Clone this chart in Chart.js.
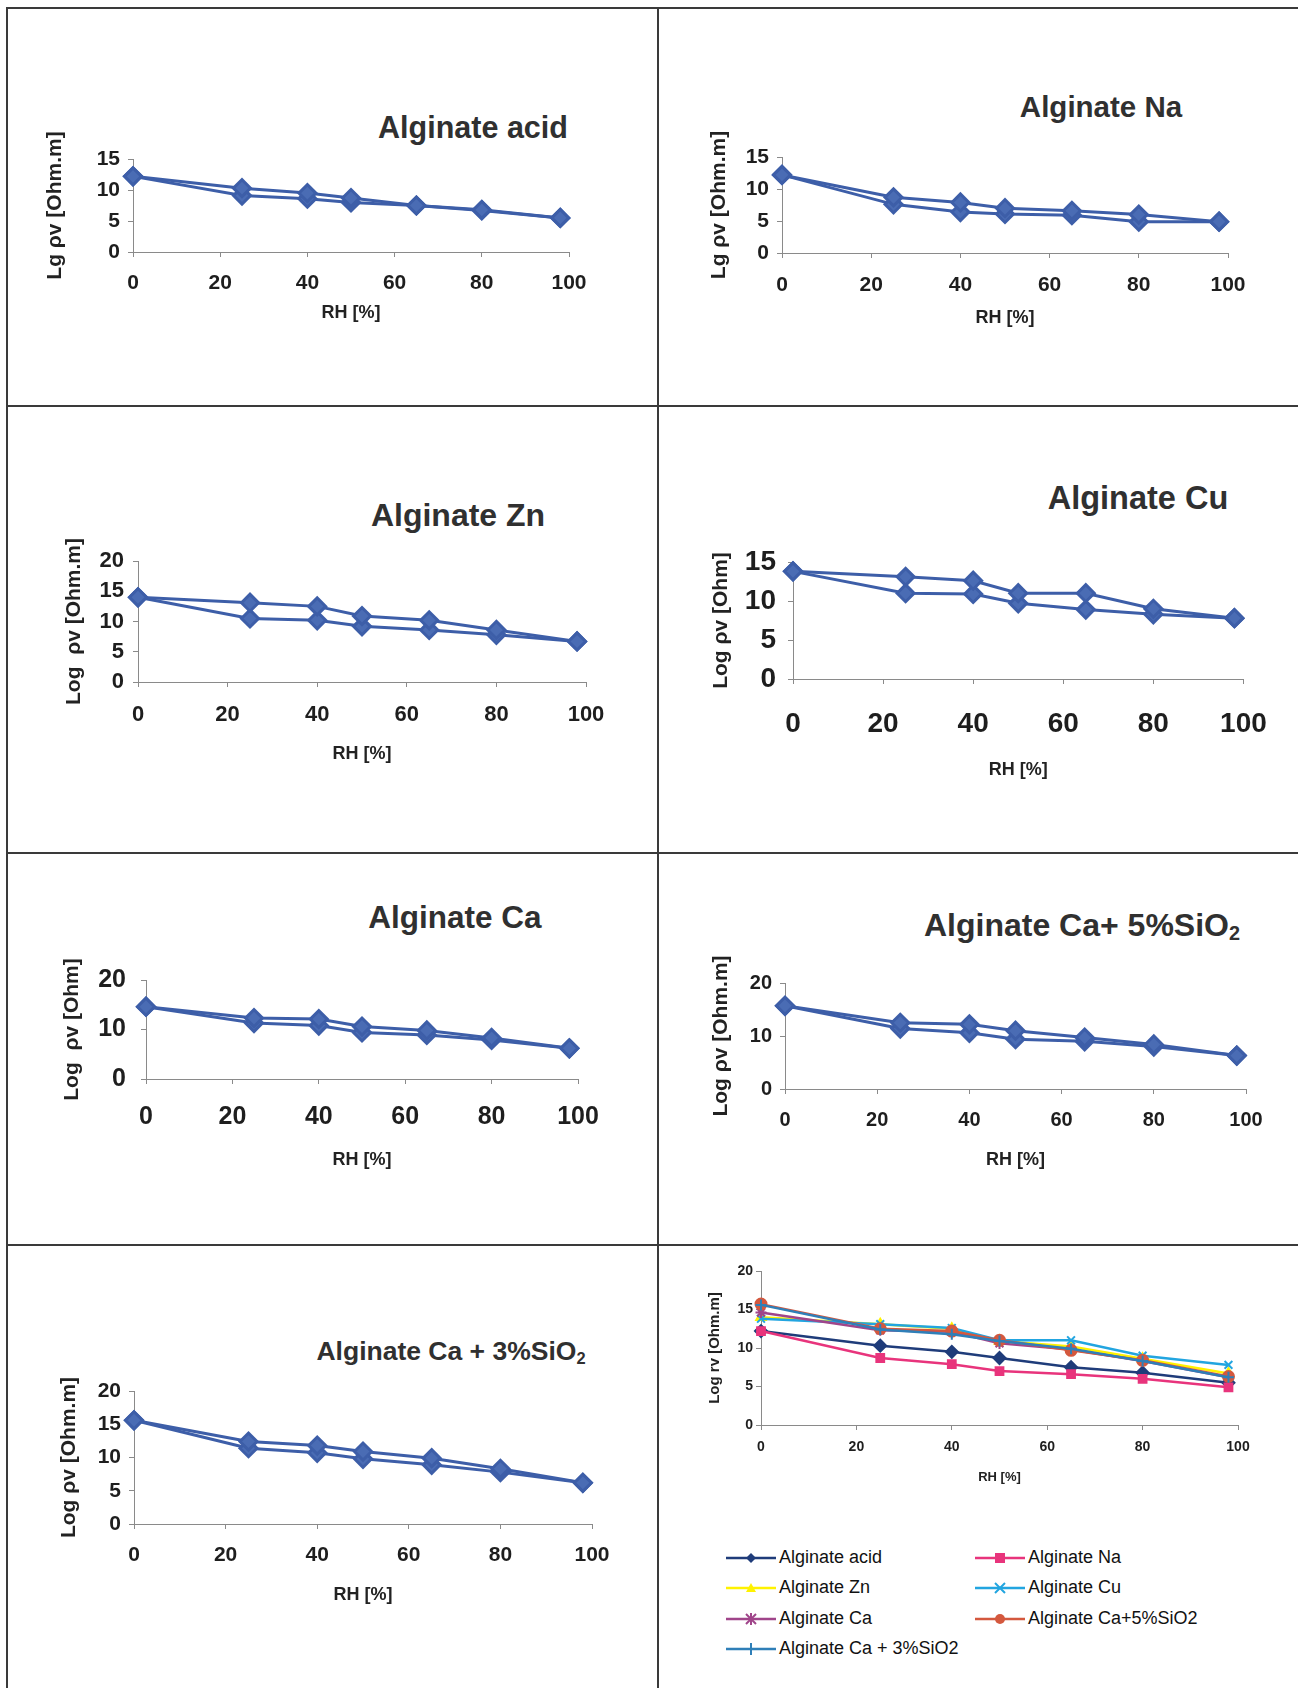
<!DOCTYPE html>
<html lang="en">
<head>
  <meta charset="UTF-8">
  <title>Alginate resistivity vs RH</title>
  <script src="https://cdn.jsdelivr.net/npm/chart.js"></script>
  <style>
    * {
      margin: 0;
      padding: 0;
      box-sizing: border-box;
    }

    body {
      width: 1298px;
      height: 1688px;
      background: #fff;
      position: relative;
      overflow: hidden;
      font-family: Arial, "Liberation Sans", sans-serif;
    }

    /* frame lines of the figure grid */
    .hline, .vline {
      position: absolute;
      background: #3a3a3a;
    }
    .hline { height: 2px; left: 7px; right: 0; }
    .vline { width: 2px; top: 7px; bottom: 0; }

    canvas { position: absolute; }

    .ptitle {
      position: absolute;
      transform: translate(-50%, -50%);
      font-weight: bold;
      color: #303030;
      white-space: nowrap;
    }
    .ptitle sub { font-size: 0.62em; vertical-align: -0.25em; }

    .legend {
      position: absolute;
      font-size: 18px;
      color: #111;
      white-space: nowrap;
    }
    .legend .item {
      position: absolute;
      display: flex;
      align-items: center;
    }
    .legend svg { margin-right: 3px; }
  </style>
</head>
<body>

  <div class="hline" style="top:7px"></div>
  <div class="hline" style="top:405px"></div>
  <div class="hline" style="top:852px"></div>
  <div class="hline" style="top:1244px"></div>
  <div class="vline" style="left:6px"></div>
  <div class="vline" style="left:657px"></div>

  <div class="ptitle" style="left:473px; top:127px; font-size:30.5px">Alginate acid</div>
  <div class="ptitle" style="left:1101px; top:107px; font-size:29.5px">Alginate Na</div>
  <div class="ptitle" style="left:458px; top:515px; font-size:32px">Alginate Zn</div>
  <div class="ptitle" style="left:1138px; top:498px; font-size:32.5px">Alginate Cu</div>
  <div class="ptitle" style="left:455px; top:917px; font-size:31.5px">Alginate Ca</div>
  <div class="ptitle" style="left:1082px; top:926px; font-size:32px">Alginate Ca+ 5%SiO<sub>2</sub></div>
  <div class="ptitle" style="left:451px; top:1352px; font-size:26.5px">Alginate Ca + 3%SiO<sub>2</sub></div>

  <div class="legend" id="legend"></div>

  <script>
    // relative humidity points
    const rh = [0, 25, 40, 50, 65, 80, 98];

    // two branches per sample (upper / lower curve of each loop)
    const acidUp = [12.2, 10.3, 9.5, 8.7, 7.5, 6.8, 5.5];
    const acidDown = [12.2, 9.1, 8.6, 8.0, 7.5, 6.7, 5.5];
    const naUp = [12.2, 8.7, 7.9, 7.0, 6.6, 6.0, 4.9];
    const naDown = [12.2, 7.6, 6.4, 6.1, 5.9, 4.9, 4.9];
    const znUp = [14.0, 13.1, 12.5, 10.9, 10.2, 8.6, 6.7];
    const znDown = [14.0, 10.5, 10.2, 9.2, 8.6, 7.8, 6.7];
    const cuUp = [13.8, 13.1, 12.6, 11.0, 11.0, 9.0, 7.8];
    const cuDown = [13.8, 11.0, 10.9, 9.7, 8.9, 8.3, 7.8];
    const caUp = [14.6, 12.3, 12.1, 10.6, 9.8, 8.3, 6.2];
    const caDown = [14.6, 11.3, 10.8, 9.4, 8.9, 7.9, 6.2];
    const ca5Up = [15.7, 12.5, 12.2, 11.0, 9.7, 8.4, 6.3];
    const ca5Down = [15.7, 11.4, 10.6, 9.4, 9.0, 8.0, 6.3];
    const ca3Up = [15.6, 12.4, 11.8, 10.9, 9.9, 8.3, 6.2];
    const ca3Down = [15.6, 11.4, 10.7, 9.8, 8.9, 7.8, 6.2];

    const xTicks = [0, 20, 40, 60, 80, 100];

    // summary chart series
    const seriesNames = ['Alginate acid', 'Alginate Na', 'Alginate Zn', 'Alginate Cu',
      'Alginate Ca', 'Alginate Ca+5%SiO2', 'Alginate Ca + 3%SiO2'];
    const seriesData = [acidUp, naUp, znUp, cuUp, caUp, ca5Up, ca3Up];
    const seriesColors = ['#1f3c7a', '#e8347c', '#fff200', '#22a5e0', '#a0458a', '#d4583e', '#2f7fb8'];
    const seriesMarkers = ['rectRot', 'rect', 'triangle', 'crossRot', 'star', 'circle', 'cross'];

    const blue = '#3d5ea8';
    const tl = 5; // tick mark length

    function pts(ys) {
      return rh.map((x, i) => ({ x: x, y: ys[i] }));
    }

    function loopSets(up, down) {
      return [up, down].map(d => ({
        data: pts(d),
        borderColor: blue,
        borderWidth: 3,
        backgroundColor: '#4a6cb4',
        pointBackgroundColor: '#4a6cb4',
        pointBorderColor: '#3d5ea8',
        pointStyle: 'rectRot',
        pointRadius: 8.5,
        clip: false
      }));
    }

    // p: chart area box (l, r, t, b), text positions, font sizes
    function panel(p, datasets) {
      const yW = p.l - p.yTitleX + 0.6 * p.yAxisSize;
      const xH = p.xTitleY - p.b + 0.6 * p.axisSize;
      const padL = Math.ceil(yW) + 4, padT = 60, padR = 40, padB = Math.ceil(xH) + 6;
      const cv = document.createElement('canvas');
      const w = p.r - p.l + padL + padR;
      const h = p.b - p.t + padT + padB;
      cv.width = w; cv.height = h;
      cv.style.left = (p.l - padL) + 'px';
      cv.style.top = (p.t - padT) + 'px';
      cv.style.width = w + 'px';
      cv.style.height = h + 'px';
      document.body.appendChild(cv);

      const fam = 'Arial, "Liberation Sans", sans-serif';
      const tickFont = { family: fam, size: p.tickSize, weight: 'bold' };
      const axisFont = { family: fam, size: p.axisSize, weight: 'bold' };
      const yAxisFont = { family: fam, size: p.yAxisSize, weight: 'bold' };

      return new Chart(cv, {
        type: 'line',
        data: { datasets: datasets },
        options: {
          responsive: false,
          devicePixelRatio: 1,
          animation: false,
          layout: { padding: { left: padL - yW, top: padT, right: padR, bottom: padB - xH } },
          plugins: { legend: { display: false }, tooltip: { enabled: false } },
          scales: {
            x: {
              type: 'linear',
              min: 0,
              max: 100,
              afterBuildTicks: s => { s.ticks = xTicks.map(v => ({ value: v })); },
              afterFit: s => { s.height = xH; },
              grid: { drawOnChartArea: false, drawTicks: true, tickLength: tl, color: '#8a8a8a' },
              border: { color: '#8a8a8a', width: 1 },
              ticks: {
                font: tickFont,
                color: '#1e1e1e',
                padding: p.tickY - p.b - tl - 0.6 * p.tickSize,
                maxRotation: 0,
                autoSkip: false
              },
              title: { display: true, text: 'RH [%]', font: axisFont, color: '#222', padding: 0 }
            },
            y: {
              min: 0,
              max: p.yMax,
              afterFit: s => { s.width = yW; },
              grid: { drawOnChartArea: false, drawTicks: true, tickLength: tl, color: '#8a8a8a' },
              border: { color: '#8a8a8a', width: 1 },
              ticks: {
                stepSize: p.yStep,
                font: tickFont,
                color: '#1e1e1e',
                padding: p.yGap - tl
              },
              title: { display: true, text: p.yTitle, font: yAxisFont, color: '#222', padding: 0 }
            }
          }
        }
      });
    }

    panel({ l: 133, r: 569, t: 159, b: 252, yMax: 15, yStep: 5, tickSize: 21, axisSize: 18, yAxisSize: 21,
      yTitle: 'Lg ρv [Ohm.m]', yTitleX: 55, tickY: 283, xTitleY: 313, yGap: 13 }, loopSets(acidUp, acidDown));

    panel({ l: 782, r: 1228, t: 157, b: 253, yMax: 15, yStep: 5, tickSize: 21, axisSize: 18, yAxisSize: 21,
      yTitle: 'Lg ρv [Ohm.m]', yTitleX: 719, tickY: 285, xTitleY: 318, yGap: 13 }, loopSets(naUp, naDown));

    panel({ l: 138, r: 586, t: 561, b: 682, yMax: 20, yStep: 5, tickSize: 22, axisSize: 18, yAxisSize: 21,
      yTitle: 'Log  ρv [Ohm.m]', yTitleX: 74, tickY: 715, xTitleY: 754, yGap: 14 }, loopSets(znUp, znDown));

    panel({ l: 793, r: 1250, t: 562, b: 679, yMax: 15, yStep: 5, tickSize: 28, axisSize: 18, yAxisSize: 21,
      yTitle: 'Log ρv [Ohm]', yTitleX: 721, tickY: 724, xTitleY: 770, yGap: 17 }, loopSets(cuUp, cuDown));

    panel({ l: 146, r: 578, t: 980, b: 1079, yMax: 20, yStep: 10, tickSize: 25, axisSize: 18, yAxisSize: 21,
      yTitle: 'Log  ρv [Ohm]', yTitleX: 72, tickY: 1117, xTitleY: 1160, yGap: 20 }, loopSets(caUp, caDown));

    panel({ l: 785, r: 1246, t: 983, b: 1089, yMax: 20, yStep: 5, tickSize: 20, axisSize: 18, yAxisSize: 21,
      yTitle: 'Log ρv [Ohm.m]', yTitleX: 721, tickY: 1120, xTitleY: 1160, yGap: 13 }, loopSets(ca5Up, ca5Down));

    panel({ l: 134, r: 592, t: 1391, b: 1524, yMax: 20, yStep: 5, tickSize: 21, axisSize: 18, yAxisSize: 21,
      yTitle: 'Log ρv [Ohm.m]', yTitleX: 69, tickY: 1555, xTitleY: 1595, yGap: 13 }, loopSets(ca3Up, ca3Down));

    // summary chart with all samples
    const allSets = seriesData.map((d, i) => ({
      label: seriesNames[i],
      data: pts(d),
      borderColor: seriesColors[i],
      borderWidth: 2.5,
      backgroundColor: seriesColors[i],
      pointBackgroundColor: seriesColors[i],
      pointBorderColor: seriesColors[i],
      pointBorderWidth: 2,
      pointStyle: seriesMarkers[i],
      pointRadius: seriesMarkers[i] === 'rectRot' ? 6 : 5.5,
      order: seriesData.length - i,
      clip: false
    }));
    panel({ l: 761, r: 1238, t: 1271, b: 1425, yMax: 20, yStep: 5, tickSize: 14, axisSize: 13, yAxisSize: 15,
      yTitle: 'Log rv [Ohm.m]', yTitleX: 715, tickY: 1447, xTitleY: 1477, yGap: 8 }, allSets);

    // legend for the summary chart
    const legendPos = [[726, 1557], [975, 1557], [726, 1587], [975, 1587], [726, 1618], [975, 1618], [726, 1648]];

    function markerSvg(style, c) {
      const cx = 25, cy = 8;
      switch (style) {
        case 'rectRot': return `<polygon points="${cx},${cy - 5} ${cx + 5},${cy} ${cx},${cy + 5} ${cx - 5},${cy}" fill="${c}"/>`;
        case 'rect': return `<rect x="${cx - 5}" y="${cy - 5}" width="10" height="10" fill="${c}"/>`;
        case 'triangle': return `<polygon points="${cx},${cy - 5} ${cx + 5},${cy + 4} ${cx - 5},${cy + 4}" fill="${c}"/>`;
        case 'crossRot': return `<path d="M${cx - 5} ${cy - 5}L${cx + 5} ${cy + 5}M${cx + 5} ${cy - 5}L${cx - 5} ${cy + 5}" stroke="${c}" stroke-width="2"/>`;
        case 'star': return `<path d="M${cx - 5} ${cy - 5}L${cx + 5} ${cy + 5}M${cx + 5} ${cy - 5}L${cx - 5} ${cy + 5}M${cx} ${cy - 6}L${cx} ${cy + 6}" stroke="${c}" stroke-width="2"/>`;
        case 'circle': return `<circle cx="${cx}" cy="${cy}" r="5" fill="${c}"/>`;
        default: return `<path d="M${cx} ${cy - 6}L${cx} ${cy + 6}" stroke="${c}" stroke-width="2"/>`;
      }
    }

    const legend = document.getElementById('legend');
    seriesNames.forEach((name, i) => {
      const item = document.createElement('div');
      item.className = 'item';
      item.style.left = legendPos[i][0] + 'px';
      item.style.top = (legendPos[i][1] - 10) + 'px';
      item.innerHTML = `<svg width="50" height="16"><line x1="0" y1="8" x2="50" y2="8" stroke="${seriesColors[i]}" stroke-width="2.5"/>${markerSvg(seriesMarkers[i], seriesColors[i])}</svg><span>${name}</span>`;
      legend.appendChild(item);
    });
  </script>

</body>
</html>
